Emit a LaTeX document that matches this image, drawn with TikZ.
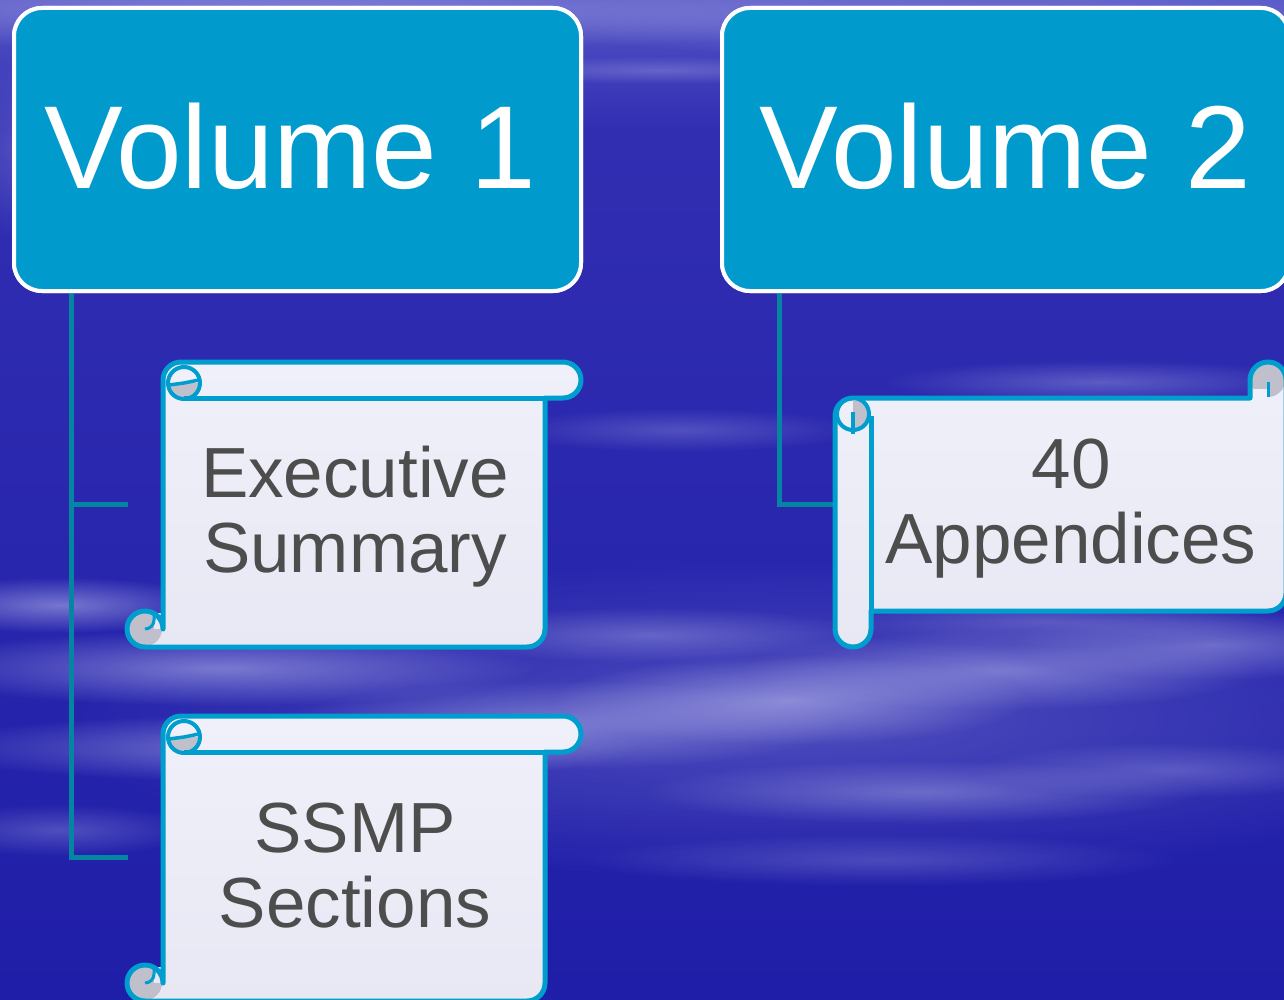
\documentclass[tikz,border=0pt]{standalone}
\usepackage{fontspec}
\setmainfont{Liberation Sans}
\usetikzlibrary{fadings,calc}
\definecolor{bgA}{RGB}{84,84,198}
\definecolor{bgB}{RGB}{49,46,178}
\definecolor{bgC}{RGB}{31,30,168}
\definecolor{cloud}{RGB}{185,185,236}
\definecolor{volblue}{RGB}{0,155,204}
\definecolor{scrollblue}{RGB}{0,158,206}
\definecolor{scrollA}{RGB}{240,240,250}
\definecolor{scrollB}{RGB}{232,232,244}
\definecolor{curlgray}{RGB}{192,192,204}
\definecolor{connteal}{RGB}{6,133,162}
\definecolor{txtgray}{RGB}{77,77,77}
\tikzfading[name=softfade, inner color=transparent!0, outer color=transparent!100]
\tikzset{
  volbox/.style={draw=white, line width=4pt, fill=volblue, rounded corners=28pt,
    minimum width=567pt, minimum height=283pt, inner sep=0pt, outer sep=0pt},
  voltext/.style={text=white, font=\fontsize{118}{124}\selectfont, inner sep=0pt, anchor=base},
  scrolltext/.style={text=txtgray, font=\fontsize{71}{75}\selectfont, inner sep=0pt, anchor=base},
  scrollfill/.style={top color=scrollA, bottom color=scrollB},
  scrollline/.style={draw=scrollblue, line width=5pt, line join=round},
  conn/.style={draw=connteal, line width=5pt},
}
\newcommand\cloudstreak[5]{%
  \fill[cloud, path fading=softfade, fill opacity=#5] (#1,#2) ellipse[x radius=#3, y radius=#4];}
\newcommand\hscrollpath{(\scL+36,\scB-18) -- (\scL+36,\scT+18)
  arc[start angle=180,end angle=270,radius=18] -- (\scR-18,\scT)
  arc[start angle=270,end angle=450,radius=18] -- (\scR-36,\scT+36) -- (\scR-36,\scB-18)
  arc[start angle=0,end angle=90,radius=18] -- (\scL+18,\scB)
  arc[start angle=90,end angle=360,radius=18] -- cycle}
\newcommand\hscroll[4]{%
  \def\scL{#1}\def\scT{#2}\def\scR{#3}\def\scB{#4}%
  \path[scrollfill] \hscrollpath;
  \fill[curlgray] (\scL+18,\scB-18) circle[radius=17];
  \fill[scrollB] (\scL+27,\scB-34) rectangle (\scL+36,\scB-18);
  \draw[scrollline] \hscrollpath;
  \draw[scrollline, line width=3pt] (\scL+27,\scB-34) -- (\scL+27,\scB-27)
     arc[start angle=0,end angle=90,radius=9];
  \fill[curlgray] (\scL+73,\scT+21) arc[start angle=0,end angle=180,radius=16] -- cycle;
  \draw[scrollline, line width=4pt] (\scL+57,\scT+21) circle[radius=16];
  \draw[scrollline, line width=3.5pt] (\scL+42,\scT+23) -- (\scL+57,\scT+21) -- (\scL+72,\scT+18);
  \draw[scrollline] (\scL+57,\scT+36) -- (\scR-36,\scT+36);
}
\newcommand\vscrollpath{(\scL+18,\scB) arc[start angle=90,end angle=180,radius=18]
  -- (\scL,\scT+54) arc[start angle=180,end angle=270,radius=18]
  -- (\scR-36,\scT+36) -- (\scR-36,\scT+18) arc[start angle=180,end angle=360,radius=18]
  -- (\scR,\scB-54) arc[start angle=0,end angle=90,radius=18]
  -- (\scL+36,\scB-36) -- (\scL+36,\scB-18) arc[start angle=0,end angle=90,radius=18] -- cycle}
\newcommand\vscroll[4]{%
  \def\scL{#1}\def\scT{#2}\def\scR{#3}\def\scB{#4}%
  \path[scrollfill] \vscrollpath;
  \fill[curlgray] (\scR-18,\scT+18) circle[radius=17];
  \fill[scrollA] (\scR-32,\scT+27) rectangle (\scR-18,\scT+36);
  \draw[scrollline] \vscrollpath;
  \draw[scrollline, line width=3pt] (\scR-18,\scT+20) -- (\scR-18,\scT+35);
  \draw[scrollline] (\scL+36,\scT+54) -- (\scL+36,\scB-36);
  \fill[curlgray] (\scL+18,\scT+36) arc[start angle=270,end angle=450,radius=16] -- cycle;
  \draw[scrollline, line width=4pt] (\scL+18,\scT+52) circle[radius=16];
  \draw[scrollline, line width=3.5pt] (\scL+18,\scT+50) -- (\scL+18,\scT+72);
}
\begin{document}
\begin{tikzpicture}[x=1pt,y=-1pt]
\useasboundingbox (0,0) rectangle (1284,1000);
\clip (0,0) rectangle (1284,1000);
% background
\shade[top color=bgA, bottom color=bgB] (0,0) rectangle (1284,130);
\shade[top color=bgB, bottom color=bgC] (0,130) rectangle (1284,1000);
\cloudstreak{800}{720}{750}{160}{0.28}
\cloudstreak{300}{10}{700}{40}{0.45}
\cloudstreak{1000}{20}{500}{40}{0.35}
\cloudstreak{660}{70}{200}{14}{0.3}
\cloudstreak{20}{150}{60}{90}{0.25}
\cloudstreak{1100}{382}{220}{22}{0.35}
\cloudstreak{680}{430}{180}{22}{0.28}
\cloudstreak{60}{605}{160}{28}{0.55}
\cloudstreak{220}{668}{320}{38}{0.55}
\cloudstreak{280}{748}{360}{34}{0.5}
\cloudstreak{60}{830}{140}{26}{0.3}
\cloudstreak{560}{725}{280}{45}{0.5}
\cloudstreak{790}{700}{240}{45}{0.6}
\cloudstreak{1000}{670}{260}{40}{0.5}
\cloudstreak{1210}{645}{200}{35}{0.45}
\cloudstreak{650}{635}{220}{28}{0.35}
\cloudstreak{1050}{622}{220}{24}{0.3}
\cloudstreak{920}{792}{280}{32}{0.4}
\cloudstreak{1170}{770}{200}{28}{0.3}
\cloudstreak{880}{860}{300}{26}{0.25}
% volume boxes
\node[volbox] (v1) at (297.5,149.5) {};
\node[volbox] (v2) at (1005.5,149.5) {};
% connector anchors
\coordinate (t1) at ($(v1.south west)+(57,0)$);
\coordinate (t2) at ($(v2.south west)+(57,0)$);
\coordinate (es) at (128,504);
\coordinate (ss) at (128,857);
\coordinate (ap) at (835,504);
\draw[conn] (t1) |- (es);
\draw[conn] (t1) |- (ss);
\draw[conn] (t2) |- (ap);
\node[volbox] at (v1) {};
\node[volbox] at (v2) {};
\node[voltext] (v1t) at (290,189) {Volume 1};
\node[voltext] (v2t) at (1005,189) {Volume 2};
% scrolls
\hscroll{127}{362}{581}{647}
\hscroll{127}{716}{581}{1001}
\vscroll{835}{362}{1286}{647}
\node[scrolltext] (es1) at (355,497) {Executive};
\node[scrolltext] (es2) at (355,572) {Summary};
\node[scrolltext] (ss1) at (355,852) {SSMP};
\node[scrolltext] (ss2) at (355,927) {Sections};
\node[scrolltext] (ap1) at (1071,488) {40};
\node[scrolltext] (ap2) at (1071,563) {Appendices};
\end{tikzpicture}
\end{document}
